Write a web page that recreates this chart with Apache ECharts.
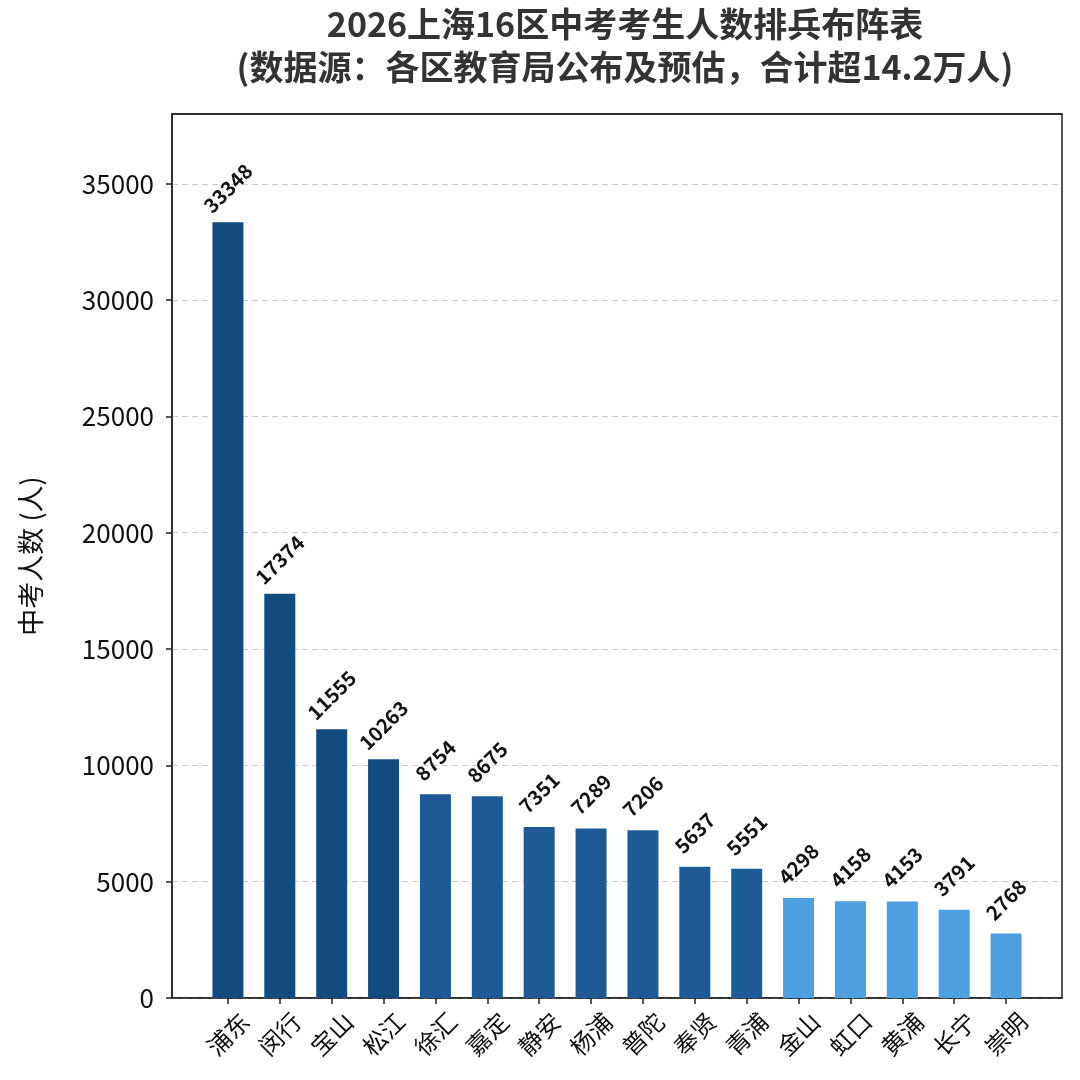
<!DOCTYPE html>
<html>
<head>
<meta charset="utf-8">
<script src="https://cdn.jsdelivr.net/npm/echarts@6/dist/echarts.min.js"></script>
<style>
  html, body { margin: 0; padding: 0; background: #fff; }
  #chart { width: 1080px; height: 1080px; }
</style>
</head>
<body>
<div id="chart"></div>
<script>
// 各区中考人数
const districts = ['浦东', '闵行', '宝山', '松江', '徐汇', '嘉定', '静安', '杨浦', '普陀', '奉贤', '青浦', '金山', '虹口', '黄浦', '长宁', '崇明'];
const students = [33348, 17374, 11555, 10263, 8754, 8675, 7351, 7289, 7206, 5637, 5551, 4298, 4158, 4153, 3791, 2768];
const yTicks = [0, 5000, 10000, 15000, 20000, 25000, 30000, 35000];

const FONT = '"Noto Sans CJK SC", "Noto Sans", sans-serif';

// 按人数分档上色
const barColor = (v) => {
  if (v >= 10000) return '#114b80';
  if (v >= 5000) return '#1e5b96';
  return '#4d9fe0';
};

const yMax = 38000;

const chart = echarts.init(document.getElementById('chart'));

const option = {
  backgroundColor: '#fff',
  animation: false,
  textStyle: { fontFamily: FONT },
  title: {
    text: '2026上海16区中考考生人数排兵布阵表\n(数据源：各区教育局公布及预估，合计超14.2万人)',
    left: 620,
    top: -2,
    textAlign: 'center',
    textStyle: {
      fontFamily: FONT,
      fontSize: 34,
      fontWeight: 'bold',
      color: '#333',
      lineHeight: 43
    }
  },
  grid: [
    { left: 202, right: 48, top: 114, bottom: 82 },
    { left: 172, right: 18, top: 114, bottom: 82, show: true, borderColor: '#222', borderWidth: 1.5, backgroundColor: 'transparent' }
  ],
  xAxis: [
    {
      type: 'category',
      gridIndex: 0,
      data: districts,
      axisLine: { show: false },
      axisTick: { show: true, alignWithLabel: true, length: 6, lineStyle: { color: '#222', width: 1.5 } },
      axisLabel: {
        interval: 0,
        rotate: 45,
        align: 'center',
        verticalAlign: 'middle',
        fontSize: 24,
        color: '#111',
        margin: 36,
        fontFamily: FONT
      }
    },
    {
      type: 'value',
      gridIndex: 1,
      min: 0,
      max: 1,
      axisLine: { show: true, lineStyle: { color: '#222', width: 1.5 } },
      axisTick: { show: false },
      axisLabel: { show: false },
      splitLine: { show: false }
    },
    {
      type: 'value',
      gridIndex: 1,
      position: 'top',
      min: 0,
      max: 1,
      z: 10,
      axisLine: { show: true, lineStyle: { color: '#222', width: 1.5 } },
      axisTick: { show: false },
      axisLabel: { show: false },
      splitLine: { show: false }
    }
  ],
  yAxis: [
    {
      type: 'value',
      gridIndex: 0,
      min: 0,
      max: yMax,
      show: false,
      splitLine: { show: false }
    },
    {
      type: 'value',
      gridIndex: 1,
      min: 0,
      max: yMax,
      name: '中考人数 (人)',
      nameLocation: 'middle',
      nameGap: 128,
      nameTextStyle: { fontSize: 27, color: '#111', fontFamily: FONT },
      axisLine: { show: true, lineStyle: { color: '#222', width: 1.5 } },
      axisTick: { show: true, length: 6, customValues: yTicks, lineStyle: { color: '#222', width: 1.5 } },
      axisLabel: {
        customValues: yTicks,
        fontSize: 26,
        color: '#111',
        margin: 18,
        fontFamily: FONT,
        formatter: (v) => String(v)
      },
      splitLine: { show: true, lineStyle: { color: '#ccc', type: [6, 4], width: 1 } }
    }
  ],
  series: [
    {
      type: 'bar',
      xAxisIndex: 0,
      yAxisIndex: 0,
      barWidth: 31,
      data: students.map((v) => ({ value: v, itemStyle: { color: barColor(v) } })),
      label: {
        show: true,
        position: 'top',
        distance: 34,
        rotate: 45,
        align: 'center',
        verticalAlign: 'middle',
        fontSize: 20,
        fontWeight: 'bold',
        color: '#111',
        fontFamily: FONT
      }
    }
  ]
};

chart.setOption(option);
window.addEventListener('resize', () => {
  chart.resize();
});
</script>
</body>
</html>
